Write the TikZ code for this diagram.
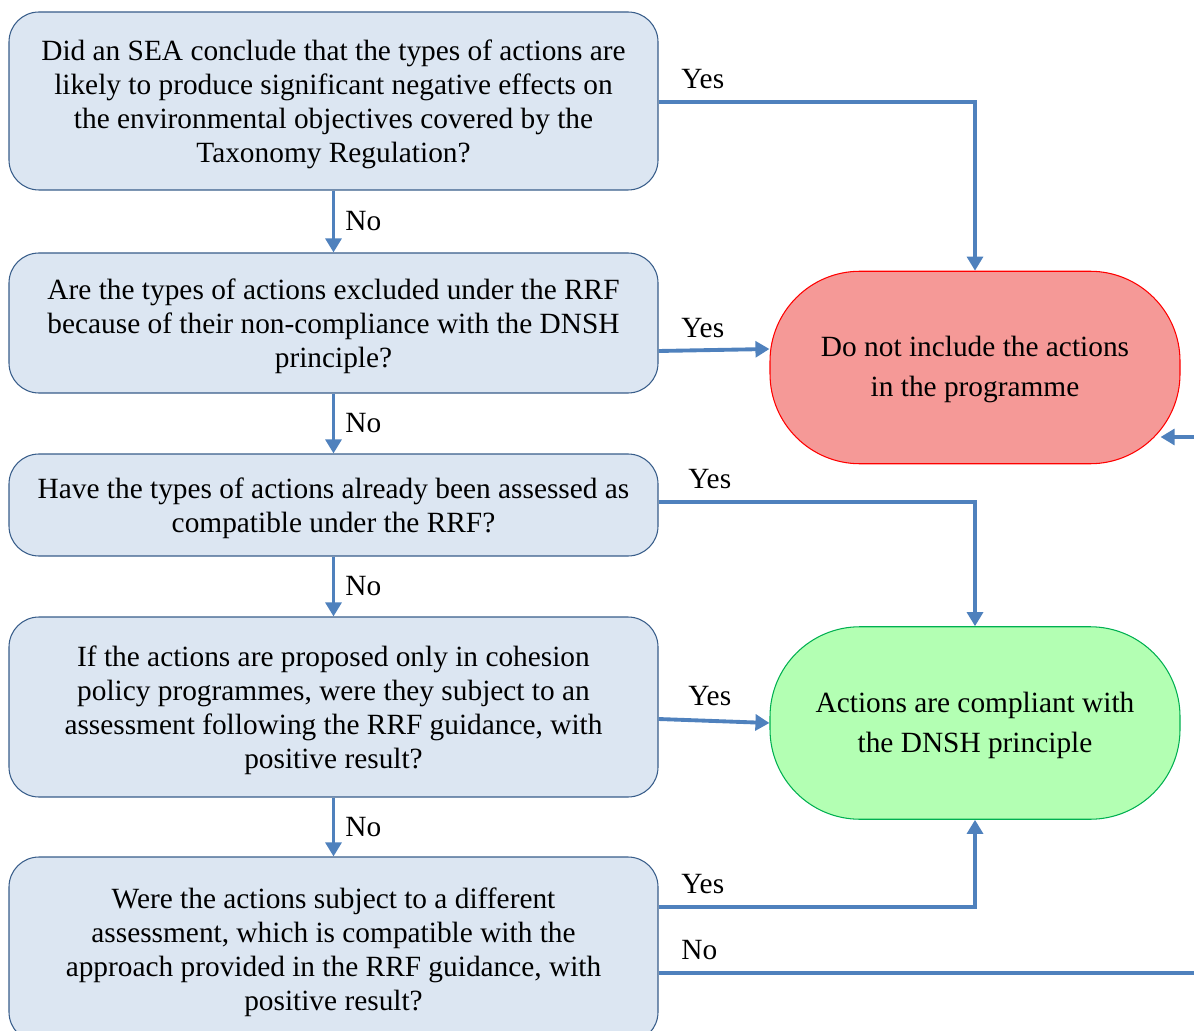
\documentclass[tikz,border=0pt]{standalone}
\usepackage{fontspec}
\setmainfont{Liberation Serif}
\usetikzlibrary{arrows.meta}
\definecolor{qfill}{RGB}{220,230,242}
\definecolor{qline}{RGB}{56,93,138}
\definecolor{flow}{RGB}{79,129,189}
\definecolor{nofill}{RGB}{245,153,151}
\definecolor{okfill}{RGB}{179,255,179}
\definecolor{okline}{RGB}{0,176,80}
\begin{document}
\begin{tikzpicture}[
    question/.style={draw=qline, fill=qfill, line width=0.6pt, rounded corners=0.6cm, minimum width=12.98cm, align=center, font=\fontsize{16.7}{19.3}\selectfont, text depth=-1pt},
    result/.style={draw, line width=0.6pt, rounded corners=1.8cm, minimum width=8.2cm, minimum height=3.85cm, align=center, font=\fontsize{16.7}{22.8}\selectfont, text depth=1.3pt},
    flowline/.style={draw=flow, line width=2.2pt, -{Triangle[width=9pt,length=8pt]}},
    yes/.style={inner xsep=0.42cm, inner ysep=0.22cm, font=\fontsize{16.7}{19.3}\selectfont},
    no/.style={right, inner sep=0.2cm, font=\fontsize{16.7}{19.3}\selectfont}
]
    \useasboundingbox (0,0) rectangle (23.88,-20.62);
    \node[question, minimum height=3.56cm] (sea) at (6.67,-2.02) {Did an SEA conclude that the types of actions are\\likely to produce significant negative effects on\\the environmental objectives covered by the\\Taxonomy Regulation?};
    \node[question, minimum height=2.8cm] (excl) at (6.67,-6.46) {Are the types of actions excluded under the RRF\\because of their non-compliance with the DNSH\\principle?};
    \node[question, minimum height=2.04cm] (rrf) at (6.67,-10.10) {Have the types of actions already been assessed as\\compatible under the RRF?};
    \node[question, minimum height=3.6cm] (cohesion) at (6.67,-14.14) {If the actions are proposed only in cohesion\\policy programmes, were they subject to an\\assessment following the RRF guidance, with\\positive result?};
    \node[question, minimum height=3.7cm] (other) at (6.67,-18.99) {Were the actions subject to a different\\assessment, which is compatible with the\\approach provided in the RRF guidance, with\\positive result?};

    \node[result, draw=red, fill=nofill] (exclude) at (19.5,-7.35) {Do not include the actions\\in the programme};
    \node[result, draw=okline, fill=okfill] (comply) at (19.5,-14.46) {Actions are compliant with\\the DNSH principle};

    \coordinate (noend) at (23.88,-19.46);
    \coordinate (backin) at (23.88,-8.74);

    % No branch, straight down
    \draw[flowline] (sea) -- node[no] {No} (excl);
    \draw[flowline] (excl) -- node[no] {No} (rrf);
    \draw[flowline] (rrf) -- node[no] {No} (cohesion);
    \draw[flowline] (cohesion) -- node[no] {No} (other);

    % Yes branch, to the right
    \draw[flowline] ([yshift=-0.02cm]sea.east) -- node[yes, pos=0, above right] {Yes} ([yshift=-0.02cm]sea.east -| exclude.north) -- (exclude.north);
    \draw[flowline] ([yshift=-0.56cm]excl.east) -- node[yes, pos=0, above right] {Yes} ([yshift=0.37cm]exclude.west);
    \draw[flowline] ([yshift=0.06cm]rrf.east) -- node[yes, pos=0, above right, xshift=0.14cm] {Yes} ([yshift=0.06cm]rrf.east -| comply.north) -- (comply.north);
    \draw[flowline] ([yshift=-0.24cm]cohesion.east) -- node[yes, pos=0, above right, xshift=0.14cm] {Yes} (comply.west);
    \draw[flowline] ([yshift=0.85cm]other.east) -- node[yes, pos=0, above right] {Yes} ([yshift=0.85cm]other.east -| comply.south) -- (comply.south);
    \draw[draw=flow, line width=2.2pt] ([yshift=-0.47cm]other.east) -- node[yes, pos=0, above right] {No} (noend);
    \draw[flowline] (backin) -- ([xshift=-0.4cm]backin -| exclude.east);
\end{tikzpicture}
\end{document}
